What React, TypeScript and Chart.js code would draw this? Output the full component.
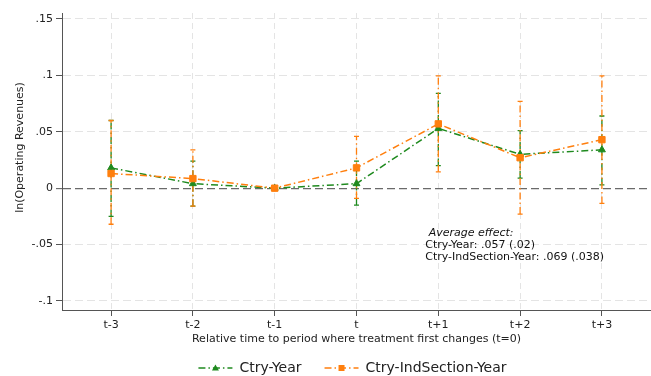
import React, { useEffect, useRef } from 'react';
import { Chart, registerables } from 'chart.js';

Chart.register(...registerables);

const periods = [-3, -2, -1, 0, 1, 2, 3];
const periodLabels = ['t-3', 't-2', 't-1', 't', 't+1', 't+2', 't+3'];

const ctryYear = [0.018, 0.004, 0, 0.004, 0.053, 0.03, 0.034];
const ctryYearLo = [-0.025, -0.016, 0, -0.015, 0.02, 0.009, 0.003];
const ctryYearHi = [0.06, 0.024, 0, 0.024, 0.084, 0.051, 0.064];

const ctryInd = [0.013, 0.0085, 0, 0.018, 0.057, 0.027, 0.043];
const ctryIndLo = [-0.032, -0.016, 0, -0.009, 0.0145, -0.023, -0.0135];
const ctryIndHi = [0.06, 0.034, 0, 0.046, 0.0995, 0.077, 0.0995];

const yTicks = [-0.1, -0.05, 0, 0.05, 0.1, 0.15];
const yTickLabels = ['-.1', '-.05', '0', '.05', '.1', '.15'];

const seriesNames = ['Ctry-Year', 'Ctry-IndSection-Year'];
const annotationLines = [' Average effect:', 'Ctry-Year: .057 (.02)', 'Ctry-IndSection-Year: .069 (.038)'];
const annotationAnchor = { x: 0.84, y: -0.0399 };

const GREEN = '#1f8a1f';
const ORANGE = '#ff7f0e';
const FONT = '"DejaVu Sans", sans-serif';
const DASH = [7, 3, 1.5, 3];

const errorBarPlugin = {
  id: 'errorBars',
  beforeDatasetsDraw(chart: any) {
    const { ctx } = chart;
    const xs = chart.scales.x;
    const ys = chart.scales.y;
    const sets = [
      { lo: ctryYearLo, hi: ctryYearHi, color: GREEN },
      { lo: ctryIndLo, hi: ctryIndHi, color: ORANGE },
    ];
    ctx.save();
    sets.forEach((s) => {
      periods.forEach((p, i) => {
        if (s.lo[i] === s.hi[i]) return;
        const x = xs.getPixelForValue(p);
        const y1 = ys.getPixelForValue(s.lo[i]);
        const y2 = ys.getPixelForValue(s.hi[i]);
        ctx.strokeStyle = s.color;
        ctx.lineWidth = 1.3;
        ctx.setLineDash(DASH);
        ctx.beginPath();
        ctx.moveTo(x, y1);
        ctx.lineTo(x, y2);
        ctx.stroke();
        ctx.setLineDash([]);
        ctx.beginPath();
        ctx.moveTo(x - 2.5, y1);
        ctx.lineTo(x + 2.5, y1);
        ctx.moveTo(x - 2.5, y2);
        ctx.lineTo(x + 2.5, y2);
        ctx.stroke();
      });
    });
    ctx.restore();
  },
  afterDraw(chart: any) {
    const { ctx, chartArea } = chart;
    const xs = chart.scales.x;
    const ys = chart.scales.y;
    ctx.save();
    // y axis title
    ctx.fillStyle = '#222';
    ctx.font = `11px ${FONT}`;
    ctx.textAlign = 'center';
    ctx.textBaseline = 'middle';
    ctx.translate(20, (chartArea.top + chartArea.bottom) / 2 - 14);
    ctx.rotate(-Math.PI / 2);
    ctx.fillText('ln(Operating Revenues)', 0, 0);
    ctx.restore();

    // annotation
    ctx.save();
    const ax = xs.getPixelForValue(annotationAnchor.x);
    const ay = ys.getPixelForValue(annotationAnchor.y);
    ctx.fillStyle = '#111';
    ctx.textAlign = 'left';
    ctx.textBaseline = 'middle';
    annotationLines.forEach((t, i) => {
      ctx.font = i === 0 ? `italic 11px ${FONT}` : `11px ${FONT}`;
      ctx.fillText(t, ax, ay + i * 11.8);
    });
    ctx.restore();

    // legend
    ctx.save();
    ctx.font = `14px ${FONT}`;
    ctx.textBaseline = 'middle';
    ctx.textAlign = 'left';
    const colors = [GREEN, ORANGE];
    const styles = ['triangle', 'rect'];
    const sample = 34;
    const gapText = 7;
    const gapItem = 23;
    const widths = seriesNames.map((n) => sample + gapText + ctx.measureText(n).width);
    const total = widths[0] + widths[1] + gapItem;
    let x = (chartArea.left + chartArea.right) / 2 - 4 - total / 2;
    const y = 368;
    seriesNames.forEach((n, i) => {
      ctx.strokeStyle = colors[i];
      ctx.fillStyle = colors[i];
      ctx.lineWidth = 1.5;
      ctx.setLineDash(DASH);
      ctx.beginPath();
      ctx.moveTo(x, y);
      ctx.lineTo(x + sample, y);
      ctx.stroke();
      ctx.setLineDash([]);
      const mx = x + sample / 2;
      ctx.beginPath();
      if (styles[i] === 'triangle') {
        ctx.moveTo(mx, y - 3.5);
        ctx.lineTo(mx + 3.5, y + 2.5);
        ctx.lineTo(mx - 3.5, y + 2.5);
        ctx.closePath();
      } else {
        ctx.rect(mx - 3, y - 3, 6, 6);
      }
      ctx.fill();
      ctx.fillStyle = '#222';
      ctx.fillText(n, x + sample + gapText, y);
      x += widths[i] + gapItem;
    });
    ctx.restore();
  },
};

export default function App() {
  const ref = useRef<HTMLCanvasElement | null>(null);
  useEffect(() => {
    if (!ref.current) return;
    const chart = new Chart(ref.current, {
      type: 'line',
      data: {
        datasets: [
          {
            label: seriesNames[0],
            data: periods.map((p, i) => ({ x: p, y: ctryYear[i] })),
            borderColor: GREEN,
            backgroundColor: GREEN,
            borderWidth: 1.5,
            borderDash: DASH,
            pointStyle: 'triangle',
            pointRadius: 4,
            pointBorderWidth: 1,
            order: 2,
          },
          {
            label: seriesNames[1],
            data: periods.map((p, i) => ({ x: p, y: ctryInd[i] })),
            borderColor: ORANGE,
            backgroundColor: ORANGE,
            borderWidth: 1.5,
            borderDash: DASH,
            pointStyle: 'rect',
            pointRadius: 4.5,
            pointBorderWidth: 1,
            order: 1,
          },
        ],
      },
      options: {
        responsive: false,
        animation: false,
        devicePixelRatio: 1,
        layout: { autoPadding: false, padding: { top: 13, right: 0, bottom: 30, left: 0 } },
        plugins: { legend: { display: false }, tooltip: { enabled: false } },
        scales: {
          x: {
            type: 'linear',
            min: -3.6,
            max: 3.6,
            afterBuildTicks: (scale: any) => {
              scale.ticks = periods.map((v) => ({ value: v }));
            },
            afterFit: (scale: any) => {
              scale.height = 36;
              scale.paddingLeft = 0;
              scale.paddingRight = 0;
            },
            ticks: {
              autoSkip: false,
              maxRotation: 0,
              padding: 3,
              color: '#222',
              font: { family: FONT, size: 11 },
              callback: (_v: any, i: number) => periodLabels[i],
            },
            grid: {
              color: '#e4e4e4',
              lineWidth: 1,
              tickLength: 6,
              tickColor: '#555',
              tickWidth: 1,
              tickBorderDash: [],
            },
            border: { display: true, color: '#555', width: 1, dash: [6, 4] },
            title: {
              display: true,
              text: 'Relative time to period where treatment first changes (t=0)',
              color: '#222',
              font: { family: FONT, size: 11 },
              padding: { top: 0, bottom: 0 },
            },
          },
          y: {
            type: 'linear',
            min: -0.108,
            max: 0.1553,
            afterBuildTicks: (scale: any) => {
              scale.ticks = yTicks.map((v) => ({ value: v }));
            },
            afterFit: (scale: any) => {
              scale.width = 62;
              scale.paddingTop = 0;
              scale.paddingBottom = 0;
            },
            ticks: {
              padding: 3,
              color: '#222',
              font: { family: FONT, size: 11 },
              callback: (_v: any, i: number) => yTickLabels[i],
            },
            grid: {
              color: (c: any) => (c.tick && c.tick.value === 0 ? '#6a6a6a' : '#e4e4e4'),
              lineWidth: (c: any) => (c.tick && c.tick.value === 0 ? 1.3 : 1),
              tickLength: 6,
              tickColor: '#555',
              tickWidth: 1,
              tickBorderDash: [],
            },
            border: { display: true, color: '#555', width: 1, dash: [8, 4] },
          },
        },
      },
      plugins: [errorBarPlugin],
    } as any);
    return () => chart.destroy();
  }, []);
  return (
    <div style={{ position: 'fixed', left: 0, top: 0, width: 651, height: 376, background: '#fff' }}>
      <canvas ref={ref} width={651} height={376} />
    </div>
  );
}
